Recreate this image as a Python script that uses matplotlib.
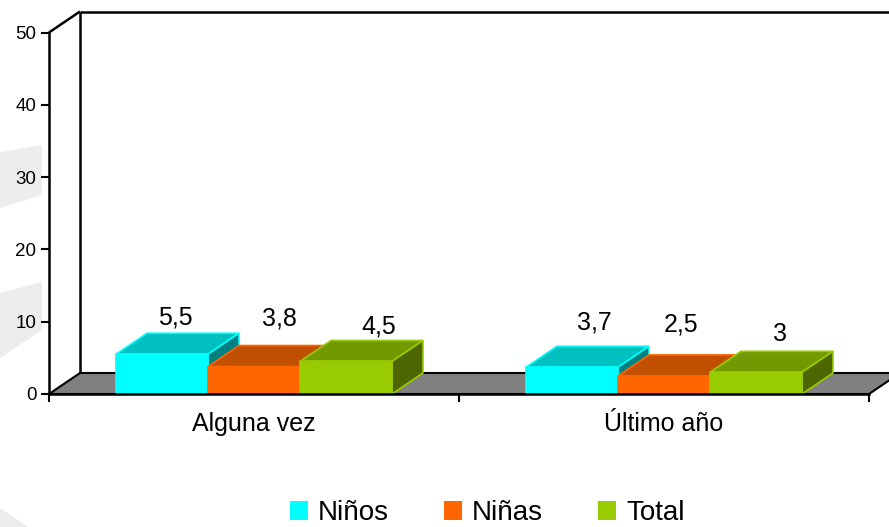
import matplotlib
matplotlib.use("Agg")
import matplotlib.pyplot as plt
from matplotlib.patches import Polygon, Patch
from matplotlib.lines import Line2D
import numpy as np

plt.rcParams['font.family'] = ['Liberation Sans', 'DejaVu Sans']

categories = ["Alguna vez", "Último año"]
series_names = ["Niños", "Niñas", "Total"]
ninos = [5.5, 3.7]
ninas = [3.8, 2.5]
total = [4.5, 3.0]
value_labels = [["5,5", "3,7"], ["3,8", "2,5"], ["4,5", "3"]]
yticks = [0, 10, 20, 30, 40, 50]

series = [ninos, ninas, total]
front_cols = ["#00FFFF", "#FF6600", "#99CC00"]
top_cols = ["#00C0C0", "#C05000", "#739900"]
side_cols = ["#008080", "#803300", "#4D6600"]
edge_cols = ["#00FFFF", "#FF6600", "#99CC00"]
# small label placement nudges (pixels, y downward), as in the original layout
label_nudge = [[(-5, 5), (4, -3)], [(7, -7), (-2, -10)], [(14, 6), (5, 3)]]

W, H = 889, 527
fig = plt.figure(figsize=(W / 100, H / 100), dpi=100)

# faint watermark shapes (background)
bg = fig.add_axes([0, 0, 1, 1], zorder=-10)
bg.set_xlim(0, W); bg.set_ylim(H, 0); bg.axis('off')
for poly in [[(0, 152), (42, 145), (42, 195), (0, 208)],
             [(0, 293), (42, 282), (42, 330), (0, 358)],
             [(0, 508), (28, 527), (0, 527)]]:
    bg.add_patch(Polygon(poly, closed=True, facecolor="#EDEDED", edgecolor="none"))

ax = fig.add_axes([49 / W, (H - 394) / H, 820 / W, 361.5 / H])
ax.set_xlim(0, 2)
ax.set_ylim(0, 50)
ax.patch.set_alpha(0)

# depth offsets in data units
DX = 31 / 410
DY = 21 / 7.23

# back wall
ax.add_patch(Polygon([(DX, DY), (DX, 50 + DY), (2 + DX, 50 + DY), (2 + DX, DY)],
                     closed=True, facecolor="white", edgecolor="none", clip_on=False, zorder=0.5))
lk = dict(color="black", lw=1.8, clip_on=False, zorder=1, solid_capstyle="butt")
ax.add_line(Line2D([DX, DX], [DY, 50 + DY], **lk))
ax.add_line(Line2D([DX, 2.2], [50 + DY, 50 + DY], **lk))
ax.add_line(Line2D([0, DX], [50, 50 + DY], **lk))

# floor
ax.add_patch(Polygon([(0, 0), (2, 0), (2 + DX, DY), (DX, DY)], closed=True,
                     facecolor="#808080", edgecolor="black", lw=1.5, clip_on=False, zorder=1.2))

# bars
w = 92 / 410
z = 2
for g, c in enumerate([0.5, 1.5]):
    for i, s in enumerate(series):
        v = s[g]
        x0 = c - 1.5 * w + i * w
        x1 = x0 + w
        top = [(x0, v), (x1, v), (x1 + DX, v + DY), (x0 + DX, v + DY)]
        side = [(x1, 0), (x1 + DX, DY), (x1 + DX, v + DY), (x1, v)]
        front = [(x0, 0), (x1, 0), (x1, v), (x0, v)]
        for pts, fc in [(top, top_cols[i]), (side, side_cols[i]), (front, front_cols[i])]:
            ax.add_patch(Polygon(pts, closed=True, facecolor=fc, edgecolor=edge_cols[i],
                                 lw=1.2, clip_on=False, zorder=z, joinstyle="miter"))
        z += 0.1
        ndx, ndy = label_nudge[i][g]
        ax.annotate(value_labels[i][g], xy=(x0 + w / 2 + DX * 0.6, v + DY),
                    xytext=(ndx * 0.72, 6 - ndy * 0.72), textcoords="offset points",
                    ha="center", va="bottom", fontsize=18, zorder=10, annotation_clip=False)

# axes styling
for sp in ["top", "right"]:
    ax.spines[sp].set_visible(False)
ax.spines["left"].set_linewidth(1.8)
ax.spines["bottom"].set_linewidth(1.8)
ax.spines["left"].set_zorder(5)
ax.spines["bottom"].set_zorder(5)
ax.set_yticks(yticks)
ax.set_yticklabels([str(t) for t in yticks], fontsize=13.5)
ax.tick_params(axis="y", direction="out", length=6, width=1.5, pad=3)
ax.set_xticks([0, 1, 2])
ax.set_xticklabels(["", "", ""])
ax.set_xticks([0.5, 1.5], minor=True)
ax.set_xticklabels(categories, minor=True, fontsize=18)
ax.tick_params(axis="x", which="major", direction="out", length=6, width=1.5)
ax.tick_params(axis="x", which="minor", length=0, pad=13)

handles = [Patch(facecolor=front_cols[i], edgecolor="none") for i in range(3)]
fig.legend(handles, series_names, loc="center", bbox_to_anchor=(487 / W, 1 - 513 / H),
           ncol=3, frameon=False, fontsize=20, handlelength=0.65, handleheight=0.65,
           handletextpad=0.35, columnspacing=2.0)

fig.savefig("out.png", dpi=100)
